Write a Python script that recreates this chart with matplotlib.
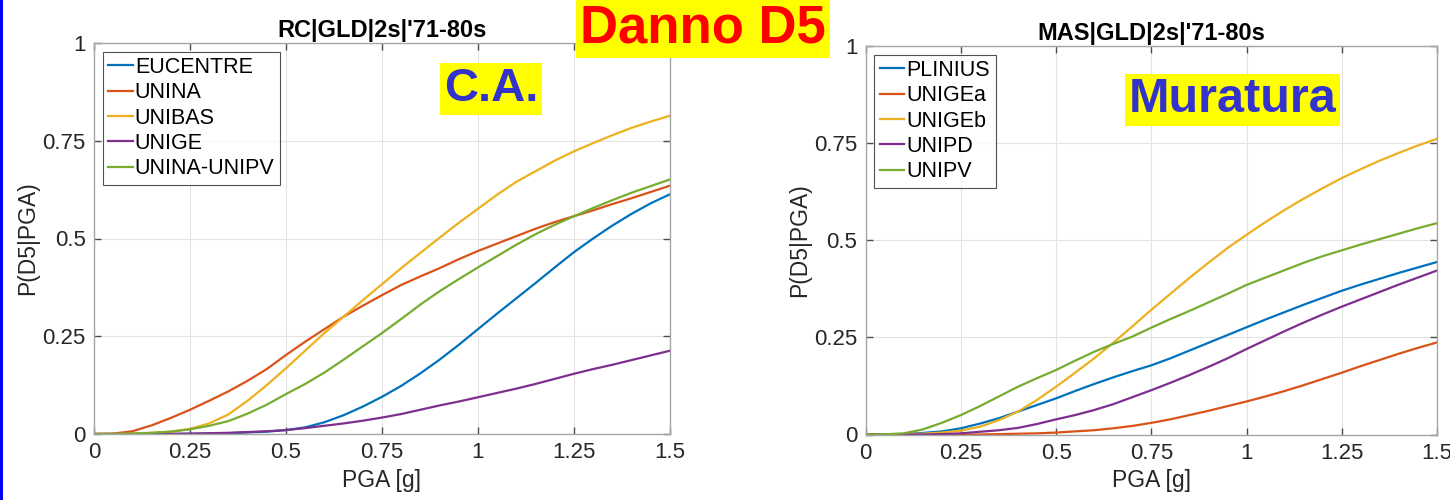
import matplotlib
matplotlib.use("Agg")
import matplotlib.pyplot as plt
from matplotlib.patches import Rectangle
from matplotlib.ticker import FuncFormatter

plt.rcParams["font.family"] = ["Liberation Sans", "DejaVu Sans"]

# PGA grid [g]
pga = [0.00, 0.05, 0.10, 0.15, 0.20, 0.25, 0.30, 0.35, 0.40, 0.45, 0.50,
       0.55, 0.60, 0.65, 0.70, 0.75, 0.80, 0.85, 0.90, 0.95, 1.00,
       1.05, 1.10, 1.15, 1.20, 1.25, 1.30, 1.35, 1.40, 1.45, 1.50]

# Reinforced concrete (C.A.) fragility curves, P(D5|PGA)
rc_names = ["EUCENTRE", "UNINA", "UNIBAS", "UNIGE", "UNINA-UNIPV"]
rc_eucentre = [0, 0, 0, 0, 0, 0.0005, 0.001, 0.002, 0.004, 0.006, 0.010,
               0.017, 0.030, 0.048, 0.070, 0.095, 0.123, 0.155, 0.190, 0.228, 0.268,
               0.308, 0.347, 0.386, 0.426, 0.465, 0.500, 0.533, 0.563, 0.590, 0.613]
rc_unina = [0, 0.001, 0.007, 0.022, 0.041, 0.062, 0.085, 0.109, 0.136, 0.166, 0.202,
            0.236, 0.268, 0.300, 0.328, 0.355, 0.381, 0.403, 0.424, 0.447, 0.468,
            0.487, 0.506, 0.525, 0.542, 0.557, 0.572, 0.588, 0.603, 0.619, 0.635]
rc_unibas = [0, 0, 0.001, 0.003, 0.006, 0.013, 0.027, 0.050, 0.085, 0.125, 0.168,
             0.213, 0.258, 0.300, 0.342, 0.383, 0.424, 0.463, 0.502, 0.540, 0.576,
             0.612, 0.645, 0.672, 0.699, 0.723, 0.744, 0.764, 0.783, 0.799, 0.814]
rc_unige = [0, 0, 0, 0, 0.0005, 0.001, 0.002, 0.003, 0.005, 0.007, 0.010,
            0.015, 0.021, 0.027, 0.034, 0.042, 0.051, 0.062, 0.073, 0.083, 0.094,
            0.105, 0.116, 0.128, 0.141, 0.154, 0.166, 0.177, 0.189, 0.201, 0.213]
rc_unina_unipv = [0, 0, 0.001, 0.003, 0.006, 0.012, 0.021, 0.033, 0.052, 0.075, 0.102,
                  0.128, 0.157, 0.190, 0.224, 0.258, 0.294, 0.331, 0.365, 0.396, 0.426,
                  0.455, 0.484, 0.511, 0.535, 0.557, 0.578, 0.598, 0.617, 0.634, 0.651]

# Masonry (Muratura) fragility curves, P(D5|PGA)
mas_names = ["PLINIUS", "UNIGEa", "UNIGEb", "UNIPD", "UNIPV"]
mas_plinius = [0, 0, 0.001, 0.004, 0.008, 0.016, 0.028, 0.042, 0.059, 0.076, 0.093,
               0.112, 0.130, 0.147, 0.163, 0.178, 0.196, 0.216, 0.236, 0.256, 0.276,
               0.296, 0.315, 0.334, 0.352, 0.370, 0.386, 0.401, 0.416, 0.430, 0.444]
mas_unigea = [0, 0, 0, 0, 0, 0, 0, 0.001, 0.002, 0.003, 0.005,
              0.008, 0.011, 0.016, 0.022, 0.030, 0.039, 0.050, 0.061, 0.073, 0.085,
              0.098, 0.112, 0.127, 0.143, 0.159, 0.176, 0.192, 0.208, 0.223, 0.237]
mas_unigeb = [0, 0, 0.001, 0.002, 0.005, 0.010, 0.020, 0.037, 0.059, 0.089, 0.123,
              0.159, 0.196, 0.236, 0.278, 0.321, 0.362, 0.403, 0.442, 0.480, 0.514,
              0.547, 0.578, 0.607, 0.634, 0.660, 0.683, 0.705, 0.725, 0.744, 0.761]
mas_unipd = [0, 0, 0, 0, 0.001, 0.003, 0.007, 0.011, 0.017, 0.027, 0.039,
             0.050, 0.063, 0.078, 0.096, 0.114, 0.133, 0.153, 0.174, 0.196, 0.220,
             0.243, 0.266, 0.288, 0.309, 0.329, 0.348, 0.367, 0.386, 0.404, 0.422]
mas_unipv = [0, 0.0005, 0.003, 0.013, 0.030, 0.050, 0.073, 0.098, 0.123, 0.145, 0.166,
             0.190, 0.213, 0.233, 0.252, 0.275, 0.297, 0.318, 0.340, 0.362, 0.385,
             0.404, 0.423, 0.442, 0.459, 0.474, 0.489, 0.503, 0.517, 0.531, 0.544]

x_ticks = [0, 0.25, 0.5, 0.75, 1, 1.25, 1.5]
y_ticks = [0, 0.25, 0.5, 0.75, 1]

colors = ["#0072BD", "#D95319", "#EDB120", "#7E2F8E", "#77AC30"]

fig = plt.figure(figsize=(14.5, 5.0), dpi=100)
fig.patch.set_facecolor("white")


def style_axes(ax, title):
    ax.set_xlim(0, 1.5)
    ax.set_ylim(0, 1)
    ax.set_xticks(x_ticks)
    ax.set_yticks(y_ticks)
    fmt = FuncFormatter(lambda v, _: "%g" % v)
    ax.xaxis.set_major_formatter(fmt)
    ax.yaxis.set_major_formatter(fmt)
    ax.grid(True, color="#e3e3e3", linewidth=0.8)
    ax.set_axisbelow(True)
    for s in ax.spines.values():
        s.set_color("#a6a6a6")
        s.set_linewidth(1.0)
    ax.tick_params(direction="in", length=5, width=1.0, color="#4d4d4d",
                   labelsize=16, labelcolor="#262626", top=True, right=True, pad=6)
    ax.set_xlabel("PGA [g]", fontsize=16.5, color="#262626", labelpad=4)
    ax.set_ylabel("P(D5|PGA)", fontsize=16.5, color="#262626", labelpad=2)
    ax.set_title(title, fontsize=17, fontweight="bold", color="black", pad=4)


def draw(ax, names, series):
    for name, vals, c in zip(names, series, colors):
        ax.plot(pga, vals, color=c, linewidth=1.6, label=name)
    leg = ax.legend(loc="upper left", fontsize=15.5, frameon=True, fancybox=False,
                    handlelength=1.15, handletextpad=0.1, borderpad=0.25,
                    labelspacing=0.2, borderaxespad=0.4)
    leg.get_frame().set_edgecolor("#262626")
    leg.get_frame().set_linewidth(0.8)


ax1 = fig.add_axes([0.0648, 0.132, 0.3972, 0.782])
draw(ax1, rc_names, [rc_eucentre, rc_unina, rc_unibas, rc_unige, rc_unina_unipv])
style_axes(ax1, "RC|GLD|2s|'71-80s")

ax2 = fig.add_axes([0.597, 0.131, 0.394, 0.777])
draw(ax2, mas_names, [mas_plinius, mas_unigea, mas_unigeb, mas_unipd, mas_unipv])
style_axes(ax2, "MAS|GLD|2s|'71-80s")

# Highlighted headings
box = dict(boxstyle="square,pad=0.08", facecolor="#ffff00", edgecolor="none")
fig.text(0.485, 0.943, "Danno D5", ha="center", va="center", fontsize=38,
         fontweight="bold", color="#ff0000", bbox=box)
fig.text(0.3385, 0.822, "C.A.", ha="center", va="center", fontsize=34,
         fontweight="bold", color="#3333cc", bbox=box)
fig.text(0.850, 0.800, "Muratura", ha="center", va="center", fontsize=35,
         fontweight="bold", color="#3333cc", bbox=box)

# Left border stripe
fig.patches.append(Rectangle((0, 0), 0.0022, 1, transform=fig.transFigure,
                             facecolor="#0000ff", edgecolor="none"))

fig.savefig("out.png", dpi=100)
